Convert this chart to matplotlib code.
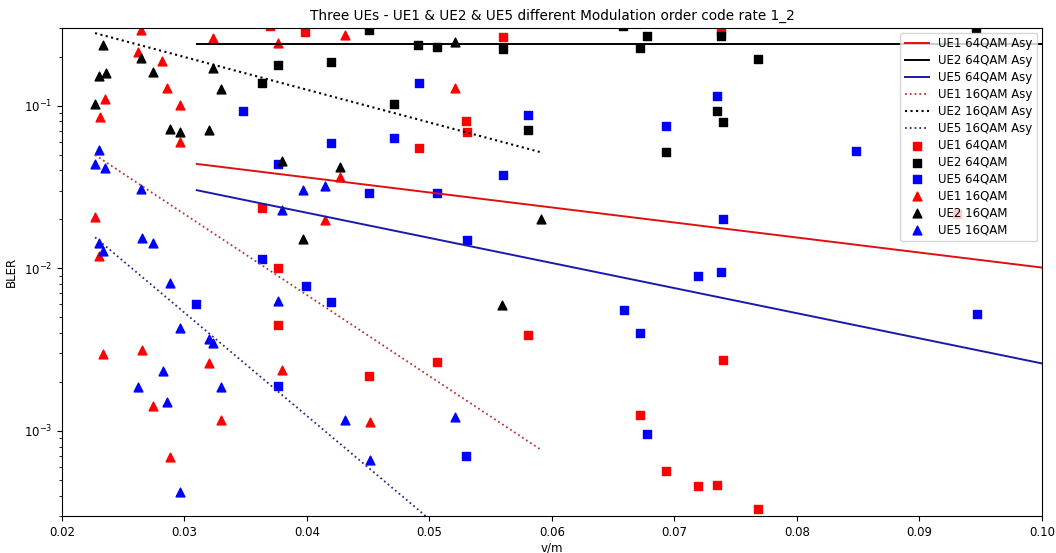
import matplotlib
matplotlib.use("Agg")
import matplotlib.pyplot as plt

# ---- asymptote (fit) lines: endpoints ----
asy_64_x = [0.031, 0.10]
ue1_64_asy = [0.0438, 0.0101]
ue2_64_asy = [0.238, 0.238]
ue5_64_asy = [0.0302, 0.0026]
asy_16_x = [0.0227, 0.059]
ue1_16_asy = [0.0497, 0.000775]
ue2_16_asy = [0.279, 0.0519]
ue5_16_asy = [0.0155, 0.000077]

# ---- measured points ----
ue1_64_x = [0.03698, 0.03984, 0.05602, 0.07377, 0.05298, 0.05304, 0.04914, 0.03630, 0.03766, 0.03766,
            0.05807, 0.05064, 0.04506, 0.07393, 0.06718, 0.06931, 0.07194, 0.07349, 0.07679, 0.0931]
ue1_64_y = [0.31, 0.282, 0.2625, 0.288, 0.0799, 0.0684, 0.0547, 0.02346, 0.01003, 0.00451,
            0.00391, 0.00264, 0.00219, 0.00274, 0.00126, 0.000565, 0.000461, 0.000468, 0.000330, 0.0215]

ue2_64_x = [0.04506, 0.04909, 0.05059, 0.05602, 0.04196, 0.03766, 0.03630, 0.04710, 0.05807, 0.06582,
            0.06773, 0.06718, 0.07377, 0.07679, 0.07349, 0.07393, 0.06931, 0.09461]
ue2_64_y = [0.291, 0.236, 0.2296, 0.222, 0.1865, 0.1777, 0.1382, 0.1024, 0.0710, 0.310,
            0.269, 0.2245, 0.266, 0.1927, 0.0922, 0.0788, 0.0521, 0.300]

ue5_64_x = [0.03475, 0.04914, 0.05807, 0.04710, 0.04196, 0.03766, 0.05602, 0.04506, 0.05064, 0.05309,
            0.03630, 0.03990, 0.04193, 0.03091, 0.03766, 0.05298, 0.07349, 0.06931, 0.08482, 0.07393,
            0.07194, 0.07377, 0.06588, 0.06718, 0.09467, 0.06773]
ue5_64_y = [0.0922, 0.1382, 0.0880, 0.0636, 0.0587, 0.0435, 0.0374, 0.0292, 0.0292, 0.01495,
            0.01140, 0.00779, 0.00620, 0.00600, 0.00190, 0.000697, 0.1153, 0.0752, 0.0529, 0.01997,
            0.00899, 0.00942, 0.00551, 0.00400, 0.00520, 0.000962]

ue1_16_x = [0.02645, 0.03235, 0.03766, 0.04310, 0.02623, 0.02819, 0.02855, 0.02351, 0.02963, 0.02310,
            0.02963, 0.05208, 0.04269, 0.04147, 0.02269, 0.02304, 0.02337, 0.02651, 0.03202, 0.03793,
            0.02740, 0.03298, 0.02882, 0.04514]
ue1_16_y = [0.291, 0.259, 0.242, 0.271, 0.215, 0.188, 0.1274, 0.1105, 0.1014, 0.0846,
            0.0601, 0.1287, 0.0365, 0.01989, 0.02064, 0.01183, 0.00297, 0.00316, 0.00261, 0.00238,
            0.00143, 0.00117, 0.000690, 0.00114]

ue2_16_x = [0.02337, 0.02645, 0.03235, 0.02304, 0.02357, 0.02740, 0.03298, 0.02269, 0.02882, 0.02963,
            0.03202, 0.03793, 0.03965, 0.05208, 0.04269, 0.05908, 0.05589]
ue2_16_y = [0.235, 0.1974, 0.1694, 0.1518, 0.1578, 0.1608, 0.1269, 0.1029, 0.0720, 0.0693,
            0.0710, 0.0458, 0.01516, 0.2444, 0.0421, 0.02017, 0.00592]

ue5_16_x = [0.02304, 0.02269, 0.02351, 0.02645, 0.03965, 0.04147, 0.03793, 0.02651, 0.02740, 0.02304,
            0.02337, 0.02882, 0.03766, 0.02963, 0.03202, 0.03235, 0.02822, 0.02623, 0.03298, 0.02855,
            0.02963, 0.04310, 0.05208, 0.04514]
ue5_16_y = [0.0534, 0.0437, 0.0415, 0.0306, 0.0302, 0.0320, 0.02293, 0.01538, 0.01424, 0.01424,
            0.01271, 0.00817, 0.00629, 0.00430, 0.00370, 0.00347, 0.00232, 0.00185, 0.00185, 0.00150,
            0.000423, 0.00116, 0.00121, 0.000659]

fig = plt.figure(figsize=(10.56, 5.53), dpi=100)
ax = fig.add_axes([0.0587, 0.0669, 0.928, 0.8825])

ax.plot(asy_64_x, ue1_64_asy, color="#e01010", lw=1.4, label="UE1 64QAM Asy")
ax.plot(asy_64_x, ue2_64_asy, color="black", lw=1.4, label="UE2 64QAM Asy")
ax.plot(asy_64_x, ue5_64_asy, color="#1a1aaa", lw=1.4, label="UE5 64QAM Asy")
ax.plot(asy_16_x, ue1_16_asy, color="#c03030", lw=1.3, ls=":", label="UE1 16QAM Asy")
ax.plot(asy_16_x, ue2_16_asy, color="black", lw=1.5, ls=":", label="UE2 16QAM Asy")
ax.plot(asy_16_x, ue5_16_asy, color="#2a2a90", lw=1.3, ls=":", label="UE5 16QAM Asy")

ms = 40
ax.scatter(ue1_64_x, ue1_64_y, marker="s", s=ms, color="red", label="UE1 64QAM")
ax.scatter(ue2_64_x, ue2_64_y, marker="s", s=ms, color="black", label="UE2 64QAM")
ax.scatter(ue5_64_x, ue5_64_y, marker="s", s=ms, color="blue", label="UE5 64QAM")
ax.scatter(ue1_16_x, ue1_16_y, marker="^", s=ms, color="red", label="UE1 16QAM")
ax.scatter(ue2_16_x, ue2_16_y, marker="^", s=ms, color="black", label="UE2 16QAM")
ax.scatter(ue5_16_x, ue5_16_y, marker="^", s=ms, color="blue", label="UE5 16QAM")

ax.set_yscale("log")
ax.set_xlim(0.02, 0.10)
ax.set_ylim(3e-4, 0.3)
ax.set_xlabel("v/m", fontsize=8.5, labelpad=2)
ax.set_ylabel("BLER", fontsize=8.5)
ax.set_title("Three UEs - UE1 & UE2 & UE5 different Modulation order code rate 1_2", fontsize=9.8)
ax.tick_params(labelsize=8.5)
ax.legend(loc="upper right", fontsize=8.5, scatterpoints=1, borderaxespad=0.4, labelspacing=0.33)

fig.savefig("out.png", dpi=100)
